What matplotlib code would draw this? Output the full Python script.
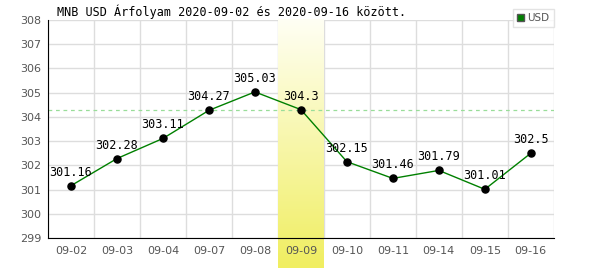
import matplotlib.pyplot as plt
import numpy as np
from matplotlib.colors import LinearSegmentedColormap

# data
dates = ['09-02', '09-03', '09-04', '09-07', '09-08', '09-09',
         '09-10', '09-11', '09-14', '09-15', '09-16']
usd = [301.16, 302.28, 303.11, 304.27, 305.03, 304.3,
       302.15, 301.46, 301.79, 301.01, 302.5]
labels = ['301.16', '302.28', '303.11', '304.27', '305.03', '304.3',
          '302.15', '301.46', '301.79', '301.01', '302.5']
highlight = 5
title = 'MNB USD Árfolyam 2020-09-02 és 2020-09-16 között.'

line_color = '#008000'
grid_color = '#dddddd'
tick_color = '#555555'

fig = plt.figure(figsize=(6, 2.7), dpi=100)
ax = fig.add_axes([0.08, 0.1185, 0.843, 0.8075])

x = np.arange(len(dates))

# grid drawn by hand so the highlight band can sit on top of it
for gx in np.arange(len(dates) + 1) - 0.5:
    ax.axvline(gx, color=grid_color, linewidth=1, zorder=0.5)
for gy in range(299, 309):
    ax.axhline(gy, color=grid_color, linewidth=1, zorder=0.5)

# highlighted day: gradient band running below the axis
grad = np.linspace(0, 1, 256).reshape(-1, 1)
cmap = LinearSegmentedColormap.from_list('hl', ['#fffff4', '#f0ee60'])
ylow = 299 - 30 / 24.2
ax.imshow(grad, cmap=cmap, aspect='auto', origin='upper',
          extent=(highlight - 0.5, highlight + 0.5, ylow, 308),
          zorder=1, clip_on=False)
ax.set_xlim(-0.5, len(dates) - 0.5)
ax.set_ylim(299, 308)

ax.set_yticks(np.arange(299, 309))
ax.set_xticks(x)
ax.set_xticklabels(dates)
ax.set_axisbelow(False)

ax.axhline(usd[highlight], color='#99dd99', linestyle=(0, (3, 3)),
           linewidth=0.9, zorder=2)

ax.plot(x, usd, color=line_color, linewidth=1, zorder=3)
ax.scatter(x, usd, s=26, color='black', zorder=4)
for xi, yi, lab in zip(x, usd, labels):
    ax.annotate(lab, (xi, yi), xytext=(0, 5), textcoords='offset points',
                ha='center', va='bottom', fontsize=8.5,
                family='DejaVu Sans Mono', color='black', zorder=5)

for s in ['top', 'right']:
    ax.spines[s].set_visible(False)
ax.spines['left'].set_color('black')
ax.spines['bottom'].set_color('black')

ax.tick_params(which='both', length=0)
ax.tick_params(axis='both', labelsize=8, labelcolor=tick_color, pad=6)
ax.tick_params(axis='y', pad=5)

fig.text(0.095, 0.985, title, fontsize=8.5, family='DejaVu Sans Mono',
         ha='left', va='top')

# legend
leg = ax.legend([plt.Rectangle((0, 0), 1, 1, facecolor=line_color, edgecolor='#555555')],
                ['USD'], loc='upper right', bbox_to_anchor=(1.0, 1.05),
                fontsize=7.5, frameon=True, fancybox=False, handlelength=0.7,
                handleheight=0.7, handletextpad=0.3, borderpad=0.4,
                borderaxespad=0)
leg.get_frame().set_edgecolor(grid_color)
leg.get_frame().set_linewidth(1)
for t in leg.get_texts():
    t.set_color(tick_color)

fig.savefig('out.png', dpi=100)
